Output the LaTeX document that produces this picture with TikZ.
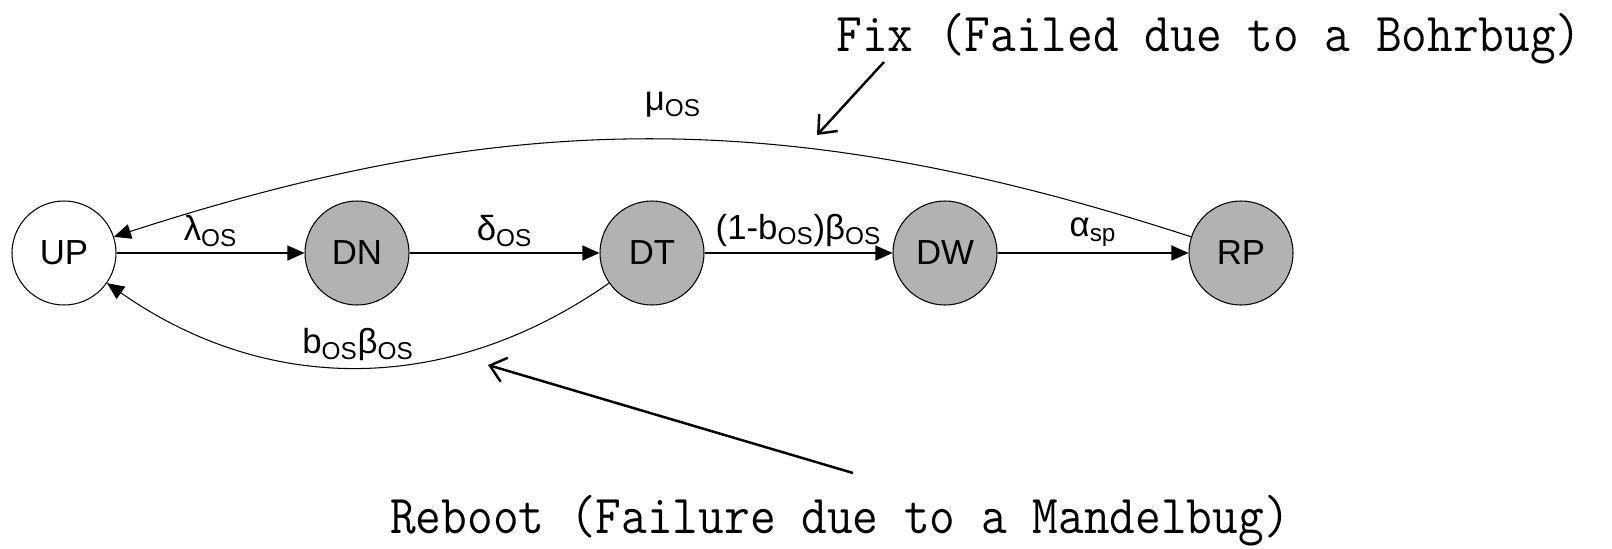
\documentclass[tikz,border=0pt]{standalone}
\usepackage{fontspec}
\newfontfamily\statefont{Liberation Sans}
\usetikzlibrary{arrows.meta}

\definecolor{stategray}{gray}{0.7}
% taller typewriter text for the notes
\newcommand{\notefont}[1]{\scalebox{1}[1.1]{#1}}

\begin{document}
\begin{tikzpicture}[
    every node/.style={font=\statefont\fontsize{19.8}{23}\selectfont},
    osstate/.style={circle, draw, line width=0.6pt, minimum size=2.08cm, inner sep=0pt},
    failed/.style={osstate, fill=stategray},
    trans/.style={line width=0.6pt, -{Triangle[length=0.34cm, width=0.3cm]}},
    note/.style={line width=1.4pt, -{Straight Barb[length=0.3cm, width=0.5cm]}},
    notetext/.style={font=\ttfamily\fontsize{28.4}{32}\selectfont}]
    % Keep the page size fixed
    \useasboundingbox (0,0) rectangle (32.24,-10.96);

    % States of the OS
    \node[osstate] (up) at (1.28,-5.06) {UP};
    \node[failed] (dn) at (7.14,-5.06) {DN};
    \node[failed] (dt) at (13.04,-5.06) {DT};
    \node[failed] (dw) at (18.90,-5.06) {DW};
    \node[failed] (rp) at (24.82,-5.06) {RP};

    % Forward transitions
    \draw[trans] (up) -- (dn) node[midway, above] {λ\textsubscript{OS}};
    \draw[trans] (dn) -- (dt) node[midway, above] {δ\textsubscript{OS}};
    \draw[trans] (dt) -- (dw) node[midway, above] {(1-b\textsubscript{OS})β\textsubscript{OS}};
    \draw[trans] (dw) -- (rp) node[midway, above] {α\textsubscript{sp}};

    % Back to UP: repair and reboot
    \draw[trans] (rp) to[out=162, in=18] node[pos=0.48, above=9pt] {μ\textsubscript{OS}} (up);
    \draw[trans] (dt) to[out=215, in=-35] node[midway, above] {b\textsubscript{OS}β\textsubscript{OS}} (up);

    % Notes
    \node[notetext] (fix) at (24.18,-0.78) {\notefont{Fix (Failed due to a Bohrbug)}};
    \node[notetext] (reboot) at (16.8,-10.42) {\notefont{Reboot (Failure due to a Mandelbug)}};
    \coordinate (fixtail) at (17.68,-1.24);
    \coordinate (fixtip) at (16.34,-2.7);
    \coordinate (reboottail) at (17.06,-9.46);
    \coordinate (reboottip) at (9.76,-7.3);
    \draw[note] (fixtail) -- (fixtip);
    \draw[note] (reboottail) -- (reboottip);
\end{tikzpicture}
\end{document}
